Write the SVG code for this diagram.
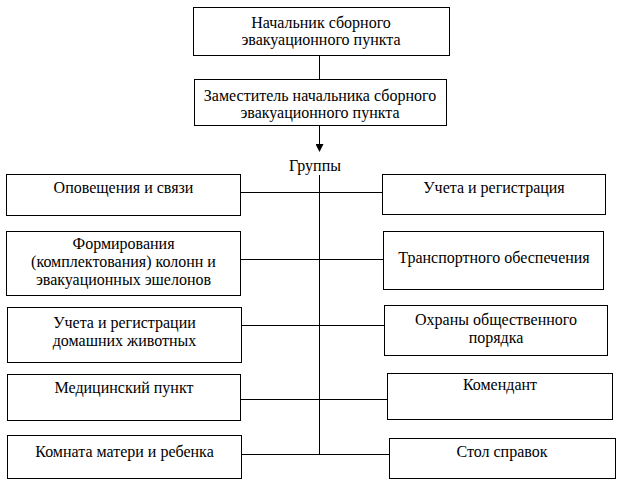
<svg xmlns="http://www.w3.org/2000/svg" width="619" height="483" viewBox="0 0 619 483">
<style>
.box{fill:#fff;stroke:#000;stroke-width:1}
.t{font-family:'Liberation Serif','DejaVu Serif',serif;font-size:16px;fill:#000;text-anchor:middle}
.c{stroke:#000;stroke-width:1;fill:none}
</style>
<defs>
<marker id="arr" markerWidth="8" markerHeight="8" refX="7" refY="4" orient="auto" markerUnits="userSpaceOnUse">
<path d="M0,0 L8,4 L0,8 Z" fill="#000"/>
</marker>
</defs>
<rect width="619" height="483" fill="#fff"/>
<g id="connectors">
<line class="c" x1="319.5" y1="55" x2="319.5" y2="79"/>
<line class="c" x1="319.5" y1="125" x2="319.5" y2="151" marker-end="url(#arr)"/>
<line class="c" x1="319.5" y1="175" x2="319.5" y2="454.5"/>
<line class="c" x1="240" y1="192.5" x2="382" y2="192.5"/>
<line class="c" x1="241" y1="259.5" x2="383" y2="259.5"/>
<line class="c" x1="241" y1="325.5" x2="384" y2="325.5"/>
<line class="c" x1="241" y1="399.5" x2="387" y2="399.5"/>
<line class="c" x1="241" y1="454.5" x2="389" y2="454.5"/>
</g>
<g font-family="Liberation Serif, serif">
<g id="n-head">
<rect class="box" x="193.5" y="7.5" width="256" height="48"/>
<text class="t" x="321" y="28">Начальник сборного</text>
<text class="t" x="321" y="45">эвакуационного пункта</text>
</g>
<g id="n-deputy">
<rect class="box" x="194.5" y="79.5" width="252" height="46"/>
<text class="t" x="320" y="101">Заместитель начальника сборного</text>
<text class="t" x="320" y="118">эвакуационного пункта</text>
</g>
<g id="n-groups">
<text class="t" x="315" y="171">Группы</text>
</g>
<g id="n-l1">
<rect class="box" x="6.5" y="174.5" width="234" height="41"/>
<text class="t" x="123.5" y="193">Оповещения и связи</text>
</g>
<g id="n-l2">
<rect class="box" x="6.5" y="231.5" width="234" height="64"/>
<text class="t" x="123.5" y="249">Формирования</text>
<text class="t" x="123.5" y="267">(комплектования) колонн и</text>
<text class="t" x="123.5" y="285">эвакуационных эшелонов</text>
</g>
<g id="n-l3">
<rect class="box" x="7.5" y="307.5" width="234" height="55"/>
<text class="t" x="124.5" y="328">Учета и регистрации</text>
<text class="t" x="124.5" y="346">домашних животных</text>
</g>
<g id="n-l4">
<rect class="box" x="7.5" y="374.5" width="233" height="46"/>
<text class="t" x="124" y="393">Медицинский пункт</text>
</g>
<g id="n-l5">
<rect class="box" x="7.5" y="435.5" width="234" height="43"/>
<text class="t" x="124.5" y="457">Комната матери и ребенка</text>
</g>
<g id="n-r1">
<rect class="box" x="382.5" y="174.5" width="223" height="40"/>
<text class="t" x="494" y="193">Учета и регистрация</text>
</g>
<g id="n-r2">
<rect class="box" x="383.5" y="231.5" width="220" height="58"/>
<text class="t" x="494" y="263">Транспортного обеспечения</text>
</g>
<g id="n-r3">
<rect class="box" x="384.5" y="305.5" width="223" height="50"/>
<text class="t" x="496" y="325">Охраны общественного</text>
<text class="t" x="496" y="343">порядка</text>
</g>
<g id="n-r4">
<rect class="box" x="387.5" y="373.5" width="225" height="46"/>
<text class="t" x="500" y="390">Комендант</text>
</g>
<g id="n-r5">
<rect class="box" x="389.5" y="438.5" width="226" height="40"/>
<text class="t" x="502" y="457">Стол справок</text>
</g>
</g>
</svg>
